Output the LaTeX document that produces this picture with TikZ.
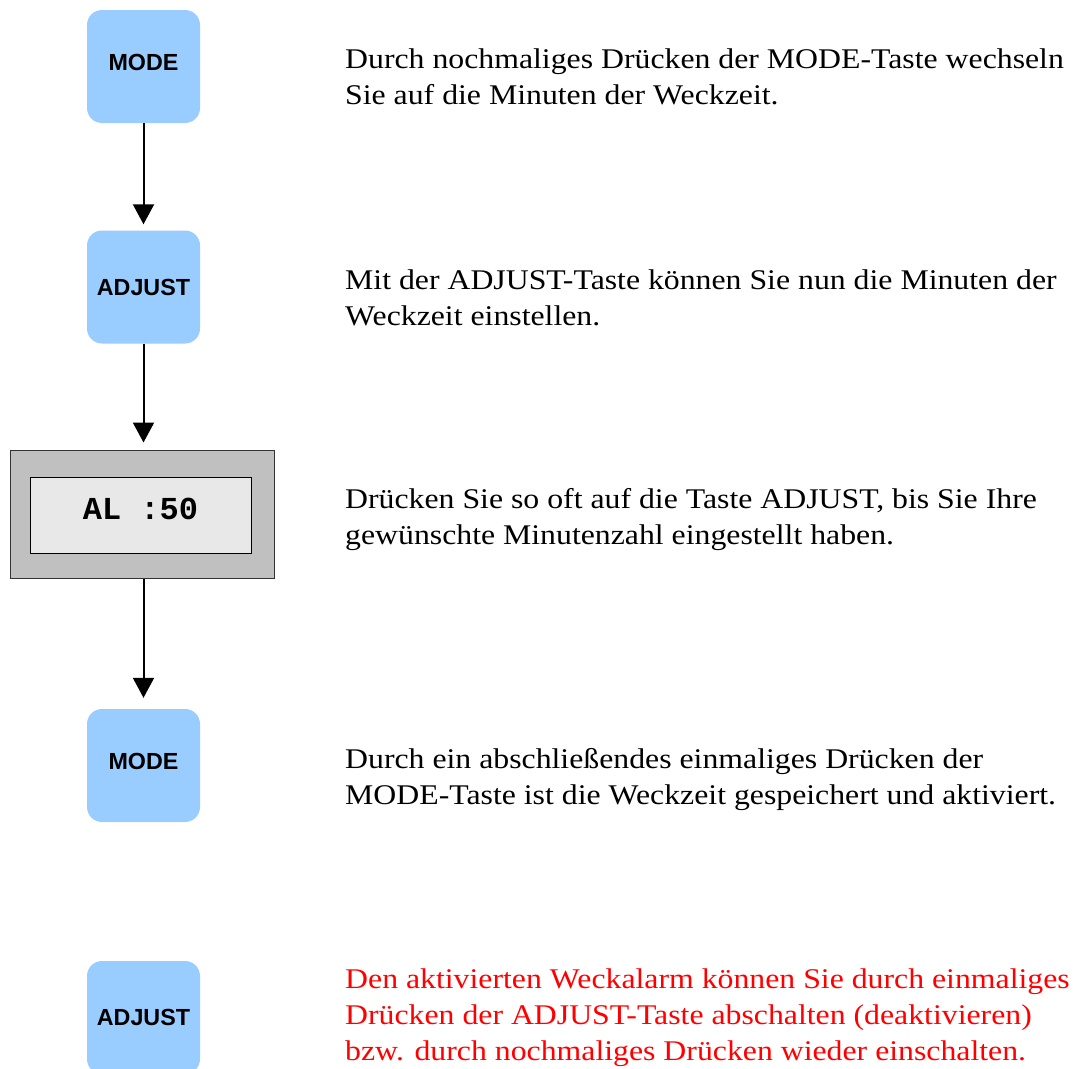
\documentclass[tikz,border=0pt]{standalone}
\usepackage{fontspec}
\setmainfont{Liberation Serif}
\newfontfamily\keyfont{Liberation Sans}
\newfontfamily\lcdfont{Liberation Mono}
\newfontfamily\notefont[FakeStretch=1.115]{Liberation Serif}
\usetikzlibrary{arrows.meta}
\definecolor{keyblue}{HTML}{99CCFF}
\definecolor{lcdframe}{HTML}{C0C0C0}
\definecolor{lcdglass}{HTML}{E8E8E8}
\definecolor{alarmred}{HTML}{FF0000}
\begin{document}
\begin{tikzpicture}[x=1pt,y=-1pt,
  key/.style={fill=keyblue, rounded corners=15pt, minimum width=113pt,
    minimum height=113pt, inner sep=0pt,
    font=\keyfont\bfseries\fontsize{23.3}{28}\selectfont},
  modekey/.style={key, text height=17pt, text depth=8.6pt},
  lcdcase/.style={draw=black!80, fill=lcdframe, line width=1pt,
    minimum width=264pt, minimum height=128pt, inner sep=0pt},
  lcdscreen/.style={draw=black, fill=lcdglass, line width=1pt,
    minimum width=221pt, minimum height=76pt, inner sep=0pt,
    font=\lcdfont\bfseries\fontsize{32}{36}\selectfont,
    text height=18.7pt, text depth=10.1pt},
  % multi-line notes: the base anchor sits on the last line
  note/.style={anchor=base west, align=left, inner sep=0pt,
    font=\notefont\fontsize{28.5}{36}\selectfont},
  flow/.style={line width=2pt, -{Triangle[length=20pt,width=21pt]}},
]
% page background
\fill[white] (0,0) rectangle (1076,1068);
\useasboundingbox (0,0) rectangle (1076,1068);

% keys and display
\node[modekey] (m1) at (143.5,66.5) {MODE};
\node[key] (a1) at (143.5,287) {ADJUST};
\node[lcdcase] (lcd) at (142,514) {};
\node[lcdscreen] (screen) at (140.5,515) {AL :50};
\node[modekey] (m2) at (143.5,765.5) {MODE};
\node[key] (a2) at (143.5,1017.5) {ADJUST};

% sequence arrows
\draw[flow, shorten >=6pt] (m1.south) -- (a1.north);
\draw[flow, shorten >=7pt] (a1.south) -- (a1.south |- lcd.north);
\draw[flow, shorten >=11pt] (lcd.south -| m2.north) -- (m2.north);

% explanations
\node[note] (n1) at (345,104) {Durch nochmaliges Drücken der MODE-Taste wechseln\\Sie auf die Minuten der Weckzeit.};
\node[note] (n2) at (345,325) {Mit der ADJUST-Taste können Sie nun die Minuten der\\Weckzeit einstellen.};
\node[note] (n3) at (345,544) {Drücken Sie so oft auf die Taste ADJUST, bis Sie Ihre\\gewünschte Minutenzahl eingestellt haben.};
\node[note] (n4) at (345,804) {Durch ein abschließendes einmaliges Drücken der\\MODE-Taste ist die Weckzeit gespeichert und aktiviert.};
\node[note, text=alarmred] (n5) at (345,1060) {Den aktivierten Weckalarm können Sie durch einmaliges\\Drücken der ADJUST-Taste abschalten (deaktivieren)\\bzw. durch nochmaliges Drücken wieder einschalten.};
\end{tikzpicture}
\end{document}
